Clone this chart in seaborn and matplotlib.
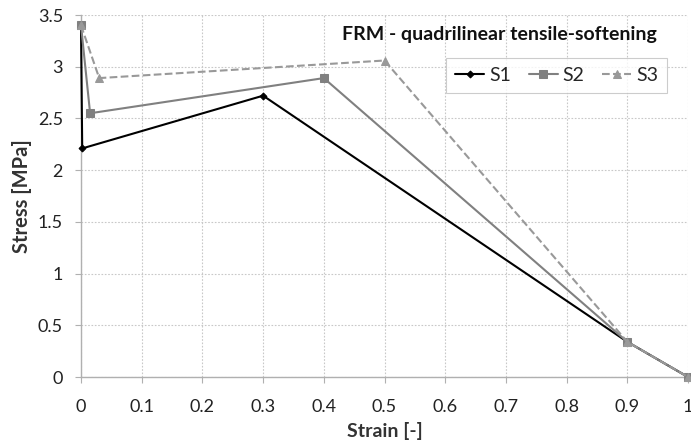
import matplotlib
matplotlib.use("Agg")
import matplotlib.pyplot as plt
import seaborn as sns
import pandas as pd

s1_strain = [0.0, 0.002, 0.3, 0.9, 1.0]
s1_stress = [3.40, 2.21, 2.72, 0.34, 0.0]
s2_strain = [0.0, 0.015, 0.4, 0.9, 1.0]
s2_stress = [3.40, 2.55, 2.89, 0.34, 0.0]
s3_strain = [0.0, 0.03, 0.5, 0.9, 1.0]
s3_stress = [3.40, 2.89, 3.06, 0.34, 0.0]

x_ticks = [0, 0.1, 0.2, 0.3, 0.4, 0.5, 0.6, 0.7, 0.8, 0.9, 1]
x_labels = ["0", "0.1", "0.2", "0.3", "0.4", "0.5", "0.6", "0.7", "0.8", "0.9", "1"]
y_ticks = [0, 0.5, 1, 1.5, 2, 2.5, 3, 3.5]
y_labels = ["0", "0.5", "1", "1.5", "2", "2.5", "3", "3.5"]

sns.set_style("white")
plt.rcParams['font.family'] = ['Lato', 'DejaVu Sans']

fig = plt.figure(figsize=(6.91, 4.45), dpi=100)
ax = fig.add_axes([81 / 691, 1 - 377 / 445, 607 / 691, 362 / 445])

series = [
    ("S1", s1_strain, s1_stress, "#000000", "-", "D", 3.5),
    ("S2", s2_strain, s2_stress, "#808080", "-", "s", 6),
    ("S3", s3_strain, s3_stress, "#999999", "--", "^", 6),
]
for name, xs, ys, col, ls, mk, ms in series:
    df = pd.DataFrame({"x": xs, "y": ys})
    sns.lineplot(data=df, x="x", y="y", sort=False, ax=ax, color=col,
                 linestyle=ls, marker=mk, markersize=ms, markeredgecolor=col,
                 markerfacecolor=col, linewidth=1.5, label=name, clip_on=False,
                 zorder=3)

ax.set_xlim(0, 1)
ax.set_ylim(0, 3.5)
ax.set_xticks(x_ticks)
ax.set_xticklabels(x_labels)
ax.set_yticks(y_ticks)
ax.set_yticklabels(y_labels)
ax.grid(True, linestyle=(0, (1.5, 1.5)), color="#c8c8c8", linewidth=0.8)
for s in ["top", "right"]:
    ax.spines[s].set_visible(False)
for s in ["left", "bottom"]:
    ax.spines[s].set_color("#b0b0b0")
    ax.spines[s].set_linewidth(1.0)
ax.tick_params(axis="both", labelsize=13, colors="#b0b0b0", labelcolor="#222222",
               length=4.5, direction="out", bottom=True, left=True)
ax.tick_params(axis="x", pad=11)
ax.tick_params(axis="y", pad=8.5)
ax.set_xlabel("Strain [-]", fontsize=14, fontweight="bold", color="#333333", labelpad=5.5)
ax.set_ylabel("Stress [MPa]", fontsize=14.5, fontweight="bold", color="#333333", labelpad=4)

ax.text(0.69, 0.945, "FRM - quadrilinear tensile-softening", transform=ax.transAxes,
        ha="center", va="center", fontsize=14, fontweight="bold", color="#111111")

leg = ax.legend(loc="upper left", bbox_to_anchor=(0.586, 0.908), ncol=3,
                fontsize=14, frameon=True, fancybox=False, handlelength=1.5,
                columnspacing=0.9, handletextpad=0.25, borderpad=0.45)
leg.get_frame().set_edgecolor("#c0c0c0")
leg.get_frame().set_linewidth(0.8)

fig.savefig("out.png", dpi=100)
